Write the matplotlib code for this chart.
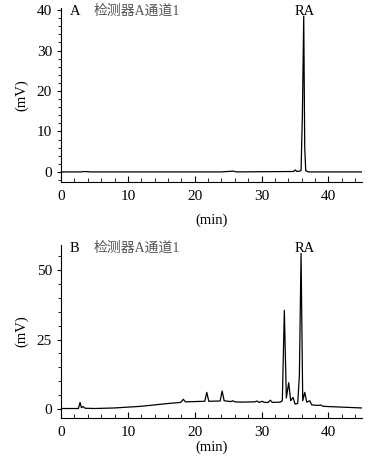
"""HPLC chromatograms: standard (A) and sample (B), detector A channel 1."""

import matplotlib
matplotlib.use("Agg")
import matplotlib.pyplot as plt
from matplotlib.ticker import MultipleLocator

plt.rcParams["font.family"] = ["Liberation Serif", "Noto Sans CJK SC"]

# panel A: standard (min, mV)
time_a = [0, 3.0, 3.5, 4.5, 24.0, 25.8, 26.2, 34.8, 35.0, 35.3, 35.9,
          36.1, 36.3, 36.45, 36.6, 37.0, 45]
signal_a = [0, 0, 0.1, 0, 0, 0.2, 0, 0.1, 0.5, 0.1, 0.3,
            14.0, 38.5, 6.0, 0.3, 0, 0]

# panel B: sample
time_b = [0, 2.6, 2.85, 3.05, 3.3, 3.6, 5, 8, 10, 12, 14, 16, 17.9, 18.3,
          18.6, 20, 21.5, 21.8, 22.1, 23.8, 24.1, 24.4, 25.4, 25.7, 26.0,
          27, 29.0, 29.3, 29.6, 30.1, 30.4, 31.0, 31.3, 31.6, 32.8, 33.1,
          33.4, 33.7, 34.05, 34.35, 34.7, 35.0, 35.4, 35.65, 35.9, 36.15,
          36.45, 36.75, 37.2, 37.5, 38.5, 38.8, 39.2, 40, 42, 45]
signal_b = [0.2, 0.2, 2.4, 0.5, 0.9, 0.3, 0.2, 0.4, 0.7, 1.0, 1.5, 2.0, 2.4,
            3.5, 2.6, 2.7, 2.8, 6.0, 2.8, 2.9, 6.5, 3.0, 2.7, 3.0, 2.6,
            2.5, 2.6, 2.9, 2.4, 2.8, 2.4, 2.4, 3.2, 2.4, 2.5, 3.0,
            35.5, 4.0, 9.5, 3.0, 4.2, 1.8, 2.0, 12.0, 56.0, 3.0,
            6.0, 2.5, 3.0, 1.5, 1.3, 1.5, 1.0, 0.9, 0.7, 0.4]

label = "检测器A通道1"
panels = [
    ("A", time_a, signal_a, (-2.5, 40.5), 10, 2,
     [0.1614, 0.606, 0.796, 0.3766], 7.0),
    ("B", time_b, signal_b, (-3.1, 59), 25, 5,
     [0.1614, 0.0959, 0.796, 0.3738], 1.0),
]

fig = plt.figure(figsize=(3.78, 4.62), dpi=100)
for letter, t, s, ylim, ymajor, yminor, rect, xpad in panels:
    ax = fig.add_axes(rect)
    ax.plot(t, s, color="black", linewidth=0.9)
    ax.set_xlim(0, 45)
    ax.set_ylim(*ylim)
    ax.spines["top"].set_visible(False)
    ax.spines["right"].set_visible(False)
    ax.xaxis.set_major_locator(MultipleLocator(10))
    ax.xaxis.set_minor_locator(MultipleLocator(2))
    ax.yaxis.set_major_locator(MultipleLocator(ymajor))
    ax.yaxis.set_minor_locator(MultipleLocator(yminor))
    ax.tick_params(axis="x", which="both", direction="in", pad=6)
    ax.tick_params(axis="x", which="major", length=4)
    ax.tick_params(axis="x", which="minor", length=3)
    ax.tick_params(axis="y", which="major", length=3)
    ax.tick_params(axis="y", which="minor", length=2)
    ax.tick_params(labelsize=11)
    ax.set_xlabel("(min)", fontsize=10.5, labelpad=xpad)
    ax.set_ylabel("(mV)", fontsize=10.5, labelpad=6)
    # header texts sit on the top of the y axis
    top = ylim[1] - 0.02 * (ylim[1] - ylim[0])
    ax.text(1.3, top, letter, fontsize=10.5, va="center", ha="left")
    ax.text(4.8, top, label, fontsize=10, va="center", ha="left",
            color="#555555")
    ax.text(36.5, top, "RA", fontsize=10.5, va="center", ha="center")

fig.savefig("out.png", dpi=100)
